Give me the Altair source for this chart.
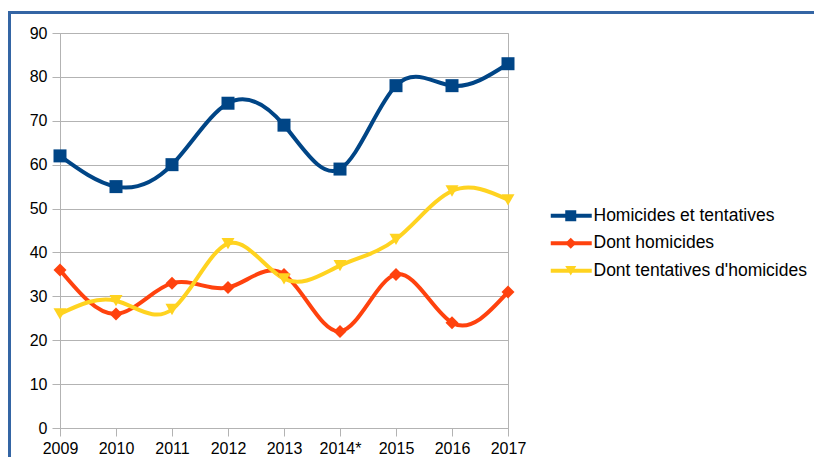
import altair as alt
import pandas as pd

years = ["2009", "2010", "2011", "2012", "2013", "2014*", "2015", "2016", "2017"]
series_names = ["Homicides et tentatives", "Dont homicides", "Dont tentatives d'homicides"]
total = [62, 55, 60, 74, 69, 59, 78, 78, 83]
homicides = [36, 26, 33, 32, 35, 22, 35, 24, 31]
tentatives = [26, 29, 27, 42, 34, 37, 43, 54, 52]
colors = ["#004586", "#ff420e", "#ffd320"]
shapes = ["square", "diamond", "triangle-down"]
y_ticks = [0, 10, 20, 30, 40, 50, 60, 70, 80, 90]

rows = []
for name, vals in zip(series_names, [total, homicides, tentatives]):
    for yr, v in zip(years, vals):
        rows.append({"year": yr, "value": v, "series": name})
df = pd.DataFrame(rows)

x_enc = alt.X("year:N", sort=years, scale=alt.Scale(type="point", padding=0),
              axis=alt.Axis(title=None, labelAngle=0, grid=False, tickSize=8,
                            labelPadding=4))
y_enc = alt.Y("value:Q", scale=alt.Scale(domain=[0, 90], nice=False),
              axis=alt.Axis(title=None, values=y_ticks, tickSize=8, labelPadding=5))
color_scale = alt.Scale(domain=series_names, range=colors)

LEG_FS = 17.5
LEG_Y = 174
lines = alt.Chart(df).mark_line(interpolate="natural", strokeWidth=4).encode(
    x=x_enc, y=y_enc,
    color=alt.Color("series:N", scale=color_scale, sort=series_names,
                    legend=alt.Legend(title=None, orient="none", legendX=502.5, legendY=LEG_Y,
                                      symbolType="M-4.1,0H4.1", symbolSize=100,
                                      symbolStrokeWidth=4, labelOffset=13.5, rowPadding=8.5,
                                      padding=0, labelFontSize=LEG_FS, labelFont="Liberation Sans",
                                      labelColor="#000000", labelLimit=400)),
)

pt_legend = alt.Legend(title=None, orient="none", legendX=502, legendY=LEG_Y,
                       symbolSize=121, symbolStrokeWidth=0, rowPadding=8.5, padding=0,
                       labelFontSize=LEG_FS, labelExpr="''", labelLimit=400)
points = alt.Chart(df).mark_point(filled=True, size=169, opacity=1).encode(
    x=x_enc, y=y_enc,
    color=alt.Color("series:N", scale=color_scale, sort=series_names, legend=pt_legend),
    shape=alt.Shape("series:N", scale=alt.Scale(domain=series_names, range=shapes),
                    sort=series_names, legend=pt_legend),
)

frame_df = pd.DataFrame({"a": [0]})
frame_top = alt.Chart(frame_df).mark_rule(color="#3465a4", strokeWidth=3).encode(
    x=alt.value(-52), x2=alt.value(754), y=alt.value(-20.5))
frame_left = alt.Chart(frame_df).mark_rule(color="#3465a4", strokeWidth=3).encode(
    x=alt.value(-50.5), y=alt.value(-22), y2=alt.value(424))

chart = alt.layer(frame_top, frame_left, lines, points).resolve_legend(
    color="independent", shape="independent"
).properties(
    width=448, height=395,
    autosize=alt.AutoSizeParams(type="none"),
    padding={"left": 52, "top": 25, "right": 306, "bottom": 29},
).configure_view(stroke="#b3b3b3", strokeWidth=1).configure_axis(
    gridColor="#b3b3b3", domainColor="#b3b3b3", tickColor="#b3b3b3",
    labelFont="Liberation Sans", labelFontSize=16, labelColor="#000000",
)

chart.save("out.html", embed_options={"renderer": "svg", "actions": False})
